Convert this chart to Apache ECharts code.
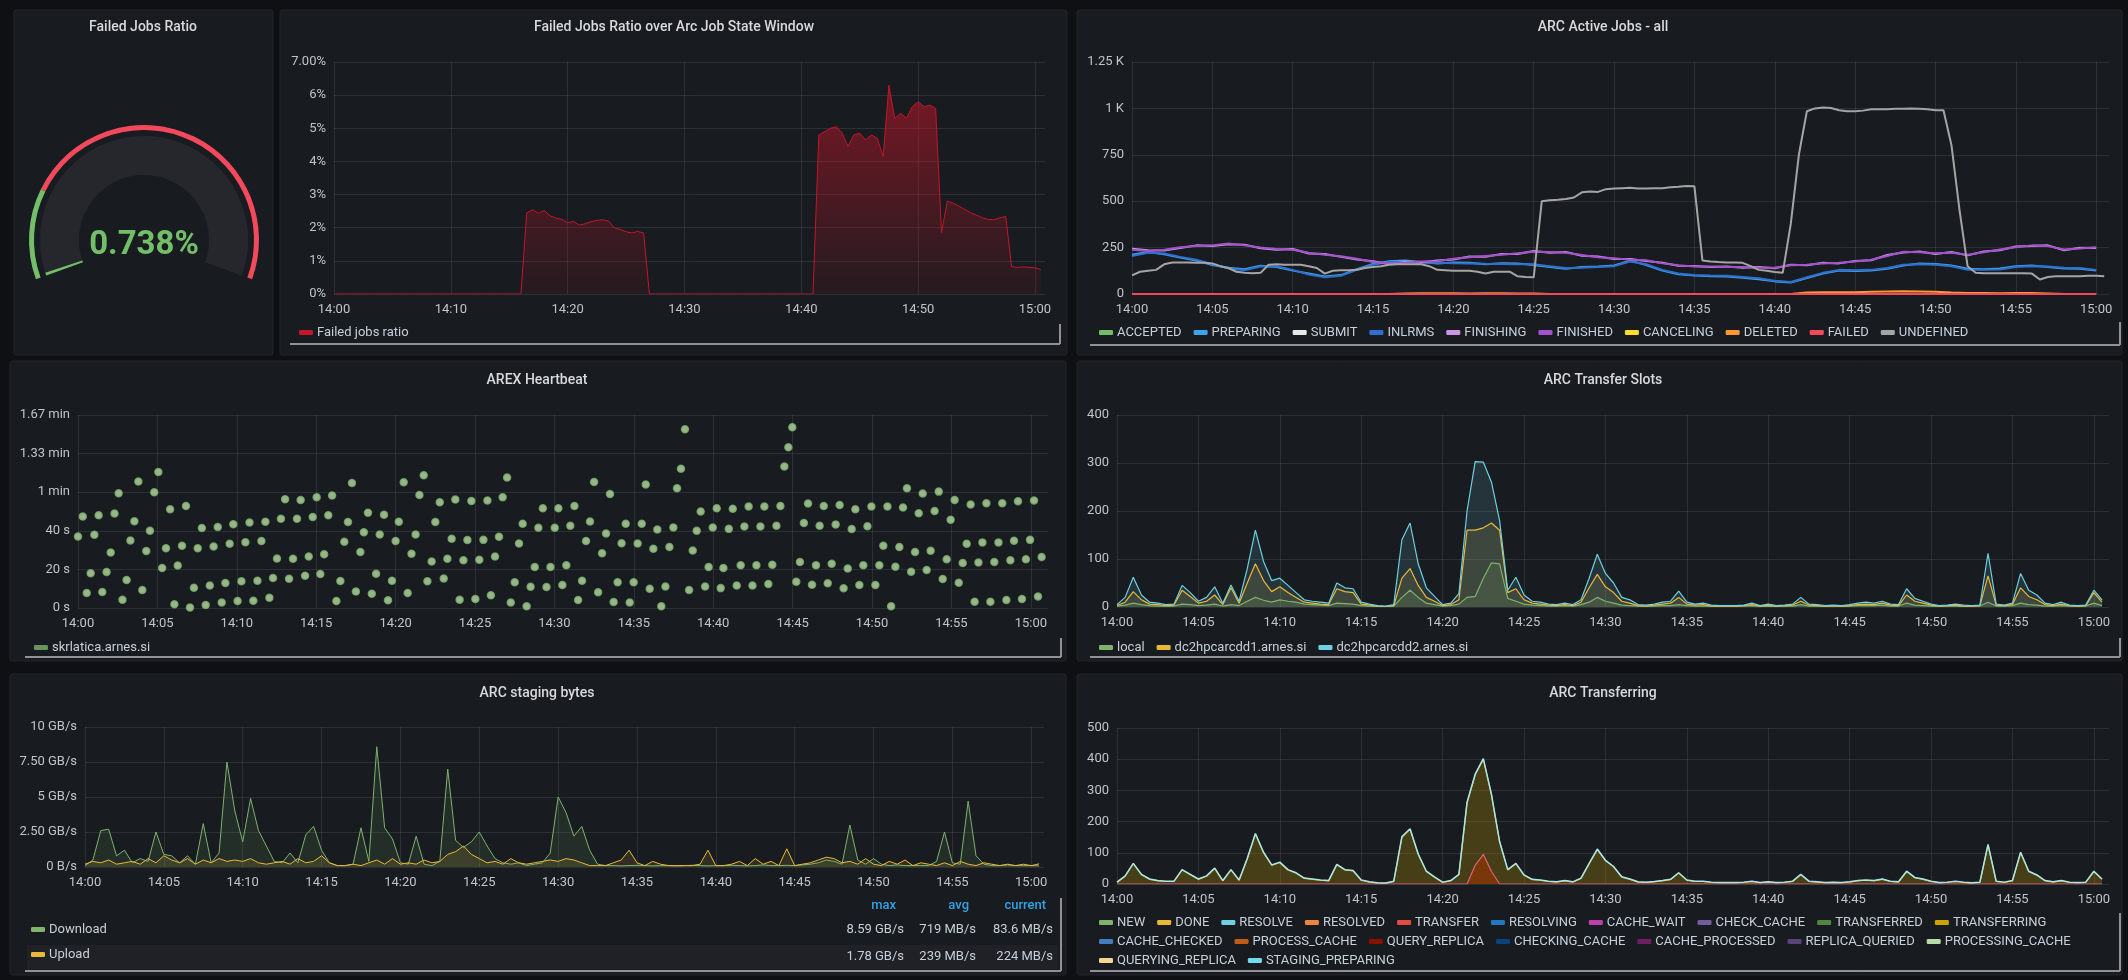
<!DOCTYPE html>
<html>
<head>
<meta charset="utf-8">
<script src="https://cdn.jsdelivr.net/npm/echarts@6/dist/echarts.min.js"></script>
<style>
html,body{margin:0;padding:0;background:#0f1014;}
#c{width:2128px;height:980px;}
</style>
</head>
<body>
<div id="c"></div>
<script>
// ---------------- DATA ----------------
const STEP_30S = 0.5;   // minutes between samples
const STEP_1M = 1;

const gaugeValue = 0.738;

const failedTicks = ['0%','1%','2%','3%','4%','5%','6%','7.00%'];
const activeTicks = ['0','250','500','750','1 K','1.25 K'];
const heartbeatTicks = ['0 s','20 s','40 s','1 min','1.33 min','1.67 min'];
const stagingTicks = ['0 B/s','2.50 GB/s','5 GB/s','7.50 GB/s','10 GB/s'];

// Failed jobs ratio (%), 30 s samples from 14:00
const failedRatio = [
0,0,0,0,0,0,0,0,0,0,
0,0,0,0,0,0,0,0,0,0,
0,0,0,0,0,0,0,0,0,0,
0,0,0,
2.45,2.54,2.44,2.52,2.36,2.29,2.25,2.15,2.19,2.08,
2.12,2.18,2.22,2.24,2.2,2.0,1.95,1.88,1.84,1.89,
1.84,
0,0,0,0,0,0,0,0,0,0,
0,0,0,0,0,0,0,0,0,0,
0,0,0,0,0,0,0,0,0,
4.8,4.9,5.0,5.05,4.85,4.45,4.8,4.85,4.65,4.8,
4.7,4.15,6.3,5.3,5.45,5.3,5.65,5.8,5.65,5.7,
5.6,1.85,2.8,2.74,2.65,2.55,2.45,2.38,2.3,2.25,
2.24,2.3,2.34,0.83,0.8,0.82,0.8,0.79,0.74
];

// ARC Active Jobs, 1 min samples
const activeFinished = [239,232,238,252,258,262,272,262,250,242,238,222,212,203,190,172,165,168,175,176,190,198,205,212,220,228,226,222,210,198,192,185,182,165,155,148,148,145,146,142,142,155,158,165,168,175,185,205,228,225,220,222,212,225,240,252,262,258,240,245,252];
const activeFinishing = [244,236,234,248,262,258,268,266,246,238,242,218,216,200,186,176,162,172,171,180,186,202,201,216,216,232,222,226,206,202,188,189,178,168,152,151,145,148,142,145,139,158,155,168,165,178,182,210,224,229,216,226,208,229,236,256,258,262,236,249,248];
const activeInlrms = [205,222,218,200,185,160,138,128,148,150,130,105,90,98,130,158,172,172,168,168,166,165,163,162,160,160,150,140,142,145,150,175,160,130,110,103,100,98,92,85,72,65,90,114,130,128,130,140,158,160,158,150,130,130,132,145,150,148,142,140,130];
const activePreparing = [212,226,214,196,180,156,142,134,152,146,126,110,94,102,134,162,176,180,172,164,170,168,160,166,164,156,146,136,146,148,154,180,156,126,106,100,96,94,88,80,68,62,86,110,126,124,126,136,154,164,162,154,136,134,138,150,154,146,138,136,126];
const activeDeleted = [0,0,0,0,0,0,0,0,0,0,0,0,0,0,0,0,0,3,4,4,4,3,4,4,3,3,0,0,0,0,0,0,0,0,0,0,0,0,0,0,0,0,8,10,9,10,12,14,15,14,12,8,5,5,4,5,5,3,0,0,0];
const activeFailed = [0,0,0,0,0,0,0,0,0,0,0,0,0,0,0,0,0,0,0,0,0,0,0,0,0,0,0,0,0,0,0,0,0,0,0,0,0,0,0,0,0,0,0,0,0,0,0,0,0,0,0,0,0,0,0,0,0,0,0,0,0];
// UNDEFINED, 30 s samples
const activeUndefined = [
100,120,125,130,160,170,170,170,168,168,
165,150,140,120,114,112,114,158,160,158,
158,158,150,140,110,125,128,128,130,140,
145,150,158,160,160,160,160,150,130,128,
125,125,125,120,110,120,120,120,95,92,
90,500,505,508,512,520,548,552,550,565,
568,570,572,568,568,570,570,575,578,582,
580,180,175,172,170,170,168,150,130,125,
118,115,380,750,985,1000,1005,1002,990,985,
985,988,995,995,996,998,998,1000,998,995,
990,990,800,450,150,115,112,112,112,112,
112,112,110,78,92,95,95,95,95,98,
98,95];

// AREX heartbeat: [minute after 14:00, seconds]
const heartbeat = [
[0.0,37],[0.3,47.4],[0.55,7.8],[0.8,18],[1.03,38],[1.3,48],[1.53,8.3],[1.8,18.6],[2.06,28.8],[2.3,49],[2.56,59.5],[2.8,4.3],[3.06,14.5],[3.3,35],[3.55,45],[3.8,65.5],[4.05,9.3],[4.3,29.5],[4.53,40],[4.8,60],[5.06,70.5],[5.3,20.7],[5.54,30.9],[5.8,51.2],[6.07,1.9],[6.28,22],[6.55,32.2],[6.8,52.8],[7.05,0.3],[7.3,10.5],[7.54,31],[7.8,41.4],[8.04,1.6],[8.3,11.7],[8.54,31.9],[8.8,42],[9.05,2.8],[9.28,12.9],[9.55,33.3],[9.78,43.4],[10.05,3.6],[10.29,13.8],[10.54,34.1],[10.8,44.3],[11.04,3.8],[11.3,14.1],[11.55,34.7],[11.8,44.7],[12.05,5.3],[12.28,15.5],[12.53,25.7],[12.78,46.2],[13.04,56.4],[13.29,15.2],[13.54,25.5],[13.79,46.2],[14.02,56],[14.3,16.7],[14.53,26.7],[14.78,47.2],[15.03,57.4],[15.26,17.6],[15.5,27.8],[15.76,48.1],[16.0,58.3],[16.27,3.6],[16.52,14],[16.77,34.3],[17.0,44.5],[17.25,64.8],[17.5,8.6],[17.78,29],[18.0,39.3],[18.26,49.3],[18.5,7.4],[18.77,17.8],[19.0,38.1],[19.27,48.3],[19.52,4],[19.77,14.1],[20.0,34.7],[20.2,44.7],
[20.51,65.2],[20.76,7.8],[21.0,28.1],[21.26,38.1],[21.5,58.6],[21.77,68.8],[22.0,13.8],[22.27,24.1],[22.5,44.5],[22.78,54.8],[23.03,15.3],[23.26,25.5],[23.53,35.9],[23.76,56.2],[24.03,4.3],[24.27,24.8],[24.52,35.2],[24.77,55.5],[25.02,4.7],[25.27,25],[25.53,35.3],[25.78,55.7],[26.0,6.6],[26.26,26.7],[26.51,36.9],[26.74,57.4],[27.02,67.6],[27.25,2.9],[27.5,13.3],[27.77,33.4],[28.0,43.6],[28.25,0.9],[28.5,11],[28.76,21.2],[28.99,41.6],[29.27,51.7],[29.5,10.9],[29.75,21.2],[30.02,41.6],[30.25,51.7],[30.5,11.9],[30.75,22.1],[31.0,42.6],[31.26,52.8],[31.49,4.1],[31.74,14.1],[31.99,34.7],[32.24,44.8],[32.5,65.3],[32.75,8.1],[33.0,28.4],[33.25,38.6],[33.5,59.1],[33.73,3.1],[33.98,13.3],[34.23,33.6],[34.49,43.6],[34.74,2.9],[34.99,13.3],[35.24,33.4],[35.5,43.6],[35.75,64],[36.0,10],[36.23,30.7],[36.48,40.7],[36.73,0.9],[36.99,11.2],[37.24,31.6],[37.49,41.7],[37.72,62.1],[37.97,72.2],[38.22,92.6],[38.48,9.3],[38.71,29.8],[38.96,40],[39.21,50],[39.49,11.2],[39.71,21.2],[39.97,41.7],[40.22,51.7],[40.47,10.3],[40.64,20.7],
[40.98,41],[41.23,51.4],[41.48,11.7],[41.73,22.1],[41.96,42.2],[42.23,52.6],[42.47,11.7],[42.72,22.1],[42.97,42.2],[43.22,52.6],[43.47,12.4],[43.72,22.4],[43.98,42.6],[44.23,52.9],[44.48,73.3],[44.73,83.3],[44.98,93.6],[45.23,13.6],[45.46,23.8],[45.71,44],[45.97,54.1],[46.22,12.1],[46.47,22.2],[46.7,42.6],[46.96,52.8],[47.21,12.8],[47.46,22.9],[47.71,43.3],[47.96,53.4],[48.21,10.2],[48.47,20.5],[48.72,40.9],[48.95,51.2],[49.2,11.9],[49.45,22.1],[49.71,42.4],[49.96,52.6],[50.21,11.9],[50.46,22.1],[50.71,32.2],[50.97,52.6],[51.2,0.9],[51.47,21.4],[51.72,31.6],[51.95,52.1],[52.2,62.1],[52.46,18.8],[52.71,29],[52.94,49.1],[53.19,59.3],[53.44,19.7],[53.69,29.7],[53.94,50.2],[54.2,60.3],[54.45,15],[54.7,25.2],[54.95,45.7],[55.2,55.9],[55.46,13.1],[55.71,23.3],[55.96,33.3],[56.21,53.6],[56.46,3.3],[56.7,23.6],[56.95,34],[57.2,54.3],[57.45,3.3],[57.7,23.8],[57.96,34],[58.2,54.3],[58.46,4.1],[58.71,24.7],[58.94,34.8],[59.19,55.3],[59.44,4.7],[59.69,25.2],[59.95,35.3],[60.2,55.7],[60.45,5.9],[60.68,26.4]
];

// ARC Transfer Slots, 30 s samples
const slotsLocal = [2,4,8,5,3,2,2,2,6,5,3,4,6,2,5,3,12,20,14,10,15,12,10,6,5,4,3,8,7,6,3,2,1,1,2,20,35,20,8,5,2,3,6,20,22,60,92,90,18,12,6,4,3,2,2,3,2,5,10,20,12,8,4,3,2,2,2,3,3,5,3,2,2,2,1,1,1,2,3,1,2,1,2,2,5,2,2,1,2,1,2,3,3,3,4,2,2,8,4,3,2,1,2,2,1,1,2,10,2,2,3,8,5,4,2,2,3,2,1,2,8,3];
const slotsDd1 = [3,10,32,15,6,5,3,4,35,22,8,12,25,5,40,8,50,90,55,32,42,30,20,10,8,6,5,38,32,30,6,4,2,1,3,60,80,45,20,12,3,5,15,160,160,165,175,160,30,38,15,8,6,4,3,5,3,10,40,68,42,30,12,8,3,2,4,6,8,20,6,4,5,2,2,2,2,3,5,2,4,2,3,4,12,4,3,2,3,2,3,5,6,5,8,4,3,25,12,8,4,2,3,4,2,2,3,65,4,3,5,40,22,15,5,3,6,3,2,3,30,10];
const slotsDd2 = [5,20,62,25,10,8,5,6,45,30,12,20,42,8,46,12,80,160,95,55,60,45,30,15,12,10,8,50,40,38,10,6,3,2,5,140,175,90,40,22,5,8,28,200,303,302,260,180,35,62,25,12,10,6,5,8,5,15,60,110,70,50,20,15,5,4,6,10,12,33,10,6,8,4,3,3,3,4,8,3,6,3,4,6,20,6,5,3,4,3,5,8,10,8,12,6,5,38,18,12,6,3,4,6,4,3,4,112,6,4,8,70,35,25,8,5,10,4,3,4,35,15];

// ARC staging bytes (GB/s), 30 s samples
const stagingDownload = [0.1,0.5,2.6,2.7,0.8,1.2,0.3,0.6,0.4,2.5,0.9,0.8,0.3,0.8,0.2,3.1,0.3,1.0,7.5,4.0,1.8,4.9,2.6,1.5,0.4,0.3,1.0,0.3,2.3,2.9,1.2,0.3,0.1,0.1,0.2,2.8,0.4,8.59,2.8,2.0,0.3,0.2,2.2,0.2,0.1,0.4,7.0,1.9,1.4,1.8,2.5,1.5,0.6,0.3,0.2,0.3,0.1,0.2,0.3,1.0,5.0,3.9,2.2,2.9,1.2,0.2,0.1,0.1,0.08,0.1,0.12,0.1,0.08,0.1,0.1,0.08,0.1,0.12,0.1,0.08,0.1,0.1,0.12,0.1,0.08,0.1,0.15,0.1,0.1,0.12,0.1,0.15,0.2,0.3,0.5,0.4,0.2,3.0,0.5,0.2,0.6,0.2,0.1,0.15,0.1,0.1,0.1,0.1,0.4,2.5,0.3,0.2,4.7,0.8,0.2,0.1,0.1,0.15,0.1,0.1,0.1,0.08];
const stagingUpload = [0.2,0.4,0.3,0.5,0.2,0.3,0.4,0.2,0.6,0.3,0.8,0.5,0.3,0.6,0.2,0.5,0.3,0.6,0.4,0.5,0.4,0.6,0.3,0.2,0.3,0.4,0.2,0.6,0.3,0.4,0.8,0.3,0.1,0.1,0.2,0.1,0.3,0.5,0.2,0.6,0.2,0.3,0.2,0.5,0.3,0.4,0.9,1.1,1.5,0.9,0.6,0.3,0.4,0.2,0.6,0.3,0.2,0.3,0.4,0.5,0.4,0.6,0.5,0.3,0.1,0.1,0.1,0.3,0.5,1.2,0.3,0.1,0.4,0.2,0.1,0.1,0.1,0.1,0.2,1.2,0.1,0.1,0.2,0.4,0.1,0.6,0.2,0.4,0.1,1.3,0.1,0.2,0.3,0.5,0.7,0.6,0.3,0.4,0.2,0.6,0.2,0.1,0.4,0.2,0.5,0.1,0.3,0.2,0.1,0.3,0.1,0.4,0.2,0.1,0.3,0.2,0.1,0.2,0.1,0.2,0.1,0.224];
const stagingStats = [
  ['Download','8.59 GB/s','719 MB/s','83.6 MB/s'],
  ['Upload','1.78 GB/s','239 MB/s','224 MB/s']
];

// ARC Transferring, 30 s samples
const xferTransferring = [5,25,65,30,15,10,8,8,45,30,15,25,50,10,45,12,80,160,100,60,68,45,35,18,15,12,10,62,45,42,12,6,3,2,8,150,175,95,40,22,5,10,30,260,350,400,285,135,45,65,28,14,12,8,6,10,6,18,65,110,75,55,22,15,6,5,7,10,14,35,12,8,8,5,4,4,4,5,8,4,6,4,5,8,30,8,6,4,5,4,6,10,12,10,15,8,6,40,20,15,8,4,5,8,5,3,5,125,8,5,10,100,40,28,10,6,10,5,4,5,40,15];
const xferStaging = [6,26,66,31,16,11,9,9,46,31,16,26,51,11,46,13,82,162,102,61,70,46,36,19,16,13,11,63,46,43,13,7,4,3,9,152,177,96,41,23,6,11,31,262,352,402,287,136,46,66,29,15,13,9,7,11,7,19,66,112,76,56,23,16,7,6,8,11,15,36,13,9,9,6,5,5,5,6,9,5,7,5,6,9,31,9,7,5,6,5,7,11,13,11,16,9,7,41,21,16,9,5,6,9,6,4,6,127,9,6,11,102,41,29,11,7,11,6,5,6,41,16];
const xferTransfer = [0,0,0,0,0,0,0,0,0,0,0,0,0,0,0,0,0,0,0,0,0,0,0,0,0,0,0,0,0,0,0,0,0,0,0,0,0,0,0,0,0,0,0,0,60,95,40,0,0,0,0,0,0,0,0,0,0,0,0,0,0,0,0,0,0,0,0,0,0,0,0,0,0,0,0,0,0,0,0,0,0,0,0,0,0,0,0,0,0,0,0,0,0,0,0,0,0,0,0,0,0,0,0,0,0,0,0,0,0,0,0,0,0,0,0,0,0,0,0,0,0,0];

const activeStates = ['ACCEPTED','PREPARING','SUBMIT','INLRMS','FINISHING','FINISHED','CANCELING','DELETED','FAILED','UNDEFINED'];
const activeColors = ['#73BF69','#3DA5E8','#E8E8E8','#2F6FD0','#CA95E5','#A352CC','#FADE2A','#FF9830','#F2495C','#A5A5A5'];
const xferStates = [
  ['NEW','DONE','RESOLVE','RESOLVED','TRANSFER','RESOLVING','CACHE_WAIT','CHECK_CACHE','TRANSFERRED','TRANSFERRING'],
  ['CACHE_CHECKED','PROCESS_CACHE','QUERY_REPLICA','CHECKING_CACHE','CACHE_PROCESSED','REPLICA_QUERIED','PROCESSING_CACHE'],
  ['QUERYING_REPLICA','STAGING_PREPARING']
];
const xferColors = {
  NEW:'#7EB26D',DONE:'#EAB839',RESOLVE:'#6ED0E0',RESOLVED:'#EF843C',TRANSFER:'#E24D42',RESOLVING:'#1F78C1',
  CACHE_WAIT:'#BA43A9',CHECK_CACHE:'#705DA0',TRANSFERRED:'#508642',TRANSFERRING:'#CCA300',CACHE_CHECKED:'#447EBC',
  PROCESS_CACHE:'#C15C17',QUERY_REPLICA:'#890F02',CHECKING_CACHE:'#0A437C',CACHE_PROCESSED:'#6D1F62',
  REPLICA_QUERIED:'#584477',PROCESSING_CACHE:'#B7DBAB',QUERYING_REPLICA:'#F4D598',STAGING_PREPARING:'#70DBED'
};

// ---------------- CHART ----------------
const FONT = 'Roboto, "Noto Sans", sans-serif';
const LABEL = '#c0c4ca';
const TITLE = '#d8d9da';
const GRIDLINE = 'rgba(255,255,255,0.09)';

function xy(values, step) { return values.map((v, i) => [i * step, v]); }
function fmtTime(v) {
  const m = Math.round(v);
  if (Math.abs(v - m) > 1e-6 || m % 5 !== 0) return '';
  const h = 14 + Math.floor(m / 60), mm = m % 60;
  return h + ':' + String(mm).padStart(2, '0');
}
function xAx(gi, max, interval) {
  return { type:'value', gridIndex:gi, min:0, max:max, interval:interval,
    axisLine:{show:false}, axisTick:{show:false},
    axisLabel:{color:LABEL, fontSize:13, fontFamily:FONT, margin:9, formatter:fmtTime, showMaxLabel:false},
    splitLine:{show:true, showMaxLine:false, lineStyle:{color:GRIDLINE, width:1}} };
}
function yAx(gi, max, interval, ticks) {
  return { type:'value', gridIndex:gi, min:0, max:max, interval:interval,
    axisLine:{show:false}, axisTick:{show:false},
    axisLabel:{color:LABEL, fontSize:13, fontFamily:FONT, margin:8,
      formatter: ticks ? (v => ticks[Math.round(v / interval)] || '') : (v => String(v))},
    splitLine:{show:true, lineStyle:{color:GRIDLINE, width:1}} };
}
function legend(names, left, top, extra) {
  return Object.assign({ data:names, left:left, top:top, padding:0, itemWidth:14, itemHeight:5,
    icon:'roundRect', itemGap:12, selectedMode:false,
    textStyle:{color:'#c7d0d9', fontSize:13, fontFamily:FONT, padding:[0,0,0,-1]} }, extra || {});
}
function fadeArea(color, a) { return { color: color, opacity: a }; }

const series = [];

// Gauge: threshold ring
series.push({ type:'gauge', center:[144,240], radius:115, startAngle:200, endAngle:-20, min:0, max:100,
  axisLine:{lineStyle:{width:5, color:[[0.21,'#73BF69'],[1,'#F2495C']]}},
  splitLine:{show:false}, axisTick:{show:false}, axisLabel:{show:false}, pointer:{show:false},
  detail:{show:false}, title:{show:false}, data:[{value:0}] });
// Gauge: value
series.push({ type:'gauge', center:[144,240], radius:104, startAngle:200, endAngle:-20, min:0, max:100,
  axisLine:{lineStyle:{width:39, color:[[1,'#25272d']]}},
  progress:{show:true, width:39, itemStyle:{color:'#73BF69'}},
  splitLine:{show:false}, axisTick:{show:false}, axisLabel:{show:false}, pointer:{show:false},
  title:{show:false},
  detail:{show:true, offsetCenter:[0,6], color:'#73BF69', fontSize:33, fontFamily:FONT,
    formatter: v => v.toFixed(3) + '%'},
  data:[{value:gaugeValue}] });

// Panel 2
series.push({ name:'Failed jobs ratio', type:'line', xAxisIndex:0, yAxisIndex:0, showSymbol:false, symbol:'none',
  color:'#C4162A', lineStyle:{width:1, color:'#C4162A'},
  areaStyle:{ color: new echarts.graphic.LinearGradient(0,0,0,1,[
    {offset:0, color:'rgba(196,22,42,0.8)'},{offset:1, color:'rgba(196,22,42,0.1)'}]) },
  data: xy(failedRatio, STEP_30S) });

// Panel 3
const activeData = {
  ACCEPTED: [], PREPARING: xy(activePreparing, STEP_1M), SUBMIT: [], INLRMS: xy(activeInlrms, STEP_1M),
  FINISHING: xy(activeFinishing, STEP_1M), FINISHED: xy(activeFinished, STEP_1M), CANCELING: [],
  DELETED: xy(activeDeleted, STEP_1M), FAILED: xy(activeFailed, STEP_1M), UNDEFINED: xy(activeUndefined, STEP_30S)
};
activeStates.forEach((s, i) => {
  series.push({ name:s, type:'line', xAxisIndex:1, yAxisIndex:1, symbol:'none', showSymbol:false,
    color: activeColors[i], lineStyle:{width:2, color:activeColors[i]}, data: activeData[s] });
});

// Panel 4
series.push({ name:'skrlatica.arnes.si', type:'scatter', xAxisIndex:2, yAxisIndex:2, symbolSize:7,
  itemStyle:{color:'#b9dca6', borderColor:'#7EB26D', borderWidth:1.5}, data: heartbeat });

// Panel 5
[['local', slotsLocal, '#7EB26D'], ['dc2hpcarcdd1.arnes.si', slotsDd1, '#EAB839'], ['dc2hpcarcdd2.arnes.si', slotsDd2, '#6ED0E0']]
.forEach(([n, d, c]) => {
  series.push({ name:n, type:'line', xAxisIndex:3, yAxisIndex:3, symbol:'none', showSymbol:false,
    color:c, lineStyle:{width:1.2, color:c}, areaStyle: fadeArea(c, 0.14), data: xy(d, STEP_30S) });
});

// Panel 6
[['Download', stagingDownload, '#7EB26D'], ['Upload', stagingUpload, '#EAB839']].forEach(([n, d, c]) => {
  series.push({ name:n, type:'line', xAxisIndex:4, yAxisIndex:4, symbol:'none', showSymbol:false,
    color:c, lineStyle:{width:1, color:c}, areaStyle: fadeArea(c, 0.13), data: xy(d, STEP_30S) });
});

// Panel 7
const xferData = { TRANSFER: xy(xferTransfer, STEP_30S), TRANSFERRING: xy(xferTransferring, STEP_30S),
  STAGING_PREPARING: xy(xferStaging, STEP_30S) };
xferStates.flat().forEach(s => {
  const c = xferColors[s];
  const o = { name:s, type:'line', xAxisIndex:5, yAxisIndex:5, symbol:'none', showSymbol:false,
    color:c, lineStyle:{width:1.2, color:c}, data: xferData[s] || [] };
  if (s === 'TRANSFERRING') o.areaStyle = fadeArea(c, 0.26);
  if (s === 'TRANSFER') { o.areaStyle = fadeArea('#890F02', 0.6); o.lineStyle.color = '#E0607a'; }
  if (s === 'STAGING_PREPARING') o.lineStyle = {width:1.5, color:'#a8e6ee'};
  series.push(o);
});

// ---------- graphic: panels, titles, legend rules, table ----------
const panels = [
  [14,10,259,345],[280,10,787,345],[1077,10,1045,345],
  [10,361,1056,300],[1077,361,1045,300],
  [10,674,1056,301],[1077,674,1045,301]
];
const titles = [
  ['Failed Jobs Ratio',143,27],['Failed Jobs Ratio over Arc Job State Window',674,27],['ARC Active Jobs - all',1603,27],
  ['AREX Heartbeat',537,380],['ARC Transfer Slots',1603,380],
  ['ARC staging bytes',537,693],['ARC Transferring',1603,693]
];
const rules = [
  [290,1060,344,324],[1090,2120,345,322],
  [25,1061,657,638],[1090,2120,657,638],
  [25,1061,971,898],[1090,2120,971,913]
];
const g = [];
panels.forEach(p => g.push({ type:'rect', z:-10, shape:{x:p[0], y:p[1], width:p[2], height:p[3], r:2},
  style:{fill:'#181b1f', stroke:'#23252b', lineWidth:1} }));
// highlighted Upload row
g.push({ type:'rect', z:-9, shape:{x:27, y:945, width:1031, height:24}, style:{fill:'#1f2126'} });
titles.forEach(t => g.push({ type:'text', z:50, x:t[1], y:t[2],
  style:{text:t[0], fill:TITLE, font:'500 14px ' + FONT, align:'center', verticalAlign:'middle',
    textAlign:'center', textVerticalAlign:'middle'} }));
rules.forEach(r => {
  g.push({ type:'line', z:50, shape:{x1:r[0], y1:r[2], x2:r[1], y2:r[2]}, style:{stroke:'#8f9196', lineWidth:2} });
  g.push({ type:'line', z:50, shape:{x1:r[1], y1:r[3], x2:r[1], y2:r[2]}, style:{stroke:'#8f9196', lineWidth:2} });
});
// staging table header & values
const headRight = [896, 969, 1046];
['max','avg','current'].forEach((h, i) => g.push({ type:'text', z:50, x:headRight[i], y:906,
  style:{text:h, fill:'#33A2E5', font:'500 13px ' + FONT, align:'right', verticalAlign:'middle',
    textAlign:'right', textVerticalAlign:'middle'} }));
const valRight = [904, 976, 1053];
const rowY = [930, 957];
stagingStats.forEach((row, r) => {
  for (let i = 1; i < 4; i++) g.push({ type:'text', z:50, x:valRight[i-1], y:rowY[r],
    style:{text:row[i], fill:'#c7d0d9', font:'13px ' + FONT, align:'right', verticalAlign:'middle',
      textAlign:'right', textVerticalAlign:'middle'} });
});

const option = {
  animation:false,
  backgroundColor:'#0f1014',
  textStyle:{fontFamily:FONT},
  grid:[
    {left:334, top:62, width:711, height:232},
    {left:1132, top:62, width:977, height:232},
    {left:78, top:415, width:970, height:193},
    {left:1117, top:415, width:992, height:192},
    {left:85, top:727, width:959, height:140},
    {left:1117, top:728, width:992, height:156}
  ],
  xAxis:[ xAx(0,60.86,10), xAx(1,60.8,5), xAx(2,61.08,5), xAx(3,60.93,5), xAx(4,60.81,5), xAx(5,60.93,5) ],
  yAxis:[ yAx(0,7,1,failedTicks), yAx(1,1250,250,activeTicks), yAx(2,100,20,heartbeatTicks),
          yAx(3,400,100,null), yAx(4,10,2.5,stagingTicks), yAx(5,500,100,null) ],
  legend:[
    legend(['Failed jobs ratio'], 299, 326),
    legend(activeStates, 1099, 326),
    legend([{name:'skrlatica.arnes.si', itemStyle:{color:'#7EB26D', borderWidth:0}}], 34, 641),
    legend(['local','dc2hpcarcdd1.arnes.si','dc2hpcarcdd2.arnes.si'], 1099, 641),
    legend(['Download','Upload'], 31, 923, {orient:'vertical', itemGap:12}),
    legend(xferStates[0], 1099, 916),
    legend(xferStates[1], 1099, 935),
    legend(xferStates[2], 1099, 954)
  ],
  graphic:{ elements:g },
  series: series
};

const chart = echarts.init(document.getElementById('c'), null, {renderer:'canvas', width:2128, height:980});
chart.setOption(option);
</script>
</body>
</html>
